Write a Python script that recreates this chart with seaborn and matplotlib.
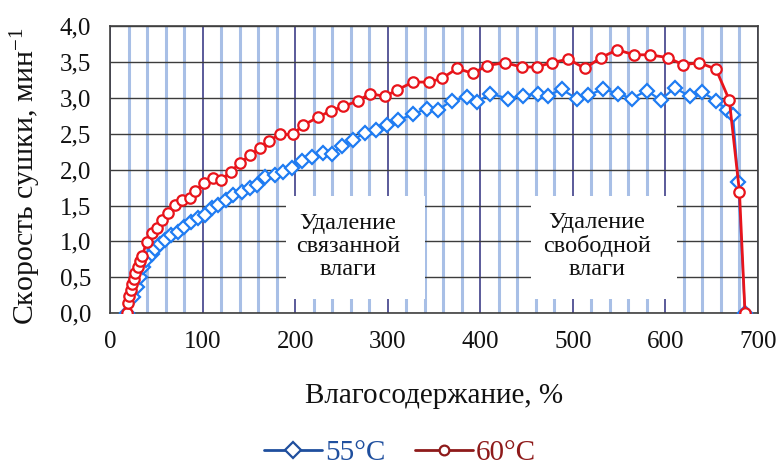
import matplotlib
matplotlib.use("Agg")
import matplotlib.pyplot as plt
from matplotlib.lines import Line2D
from matplotlib.patches import Rectangle
from matplotlib.ticker import FuncFormatter, MultipleLocator
import seaborn as sns
import pandas as pd

# ---- data ----
x55 = [17.5, 24.7, 28.3, 32, 35.5, 39, 44.5, 48, 53.5, 59, 66, 72.6, 79.8, 87.7, 95, 102,
       109.4, 116.5, 124.5, 132.8, 141.8, 151, 158, 167, 178, 186.8, 196, 206.7, 217.5,
       229.4, 240, 250, 261.8, 275, 287, 299, 311, 327, 341.8, 354, 369, 385, 396.5, 410,
       430, 446, 462.5, 473, 487.7, 504, 516.5, 532.8, 549, 563.5, 579.7, 595, 610, 626.5,
       640, 654.6, 666.8, 673, 678.7, 686]
y55 = [0.0, 0.23, 0.37, 0.51, 0.65, 0.74, 0.83, 0.90, 0.97, 1.02, 1.09, 1.13, 1.20, 1.27,
       1.32, 1.37, 1.46, 1.51, 1.57, 1.64, 1.69, 1.74, 1.78, 1.90, 1.92, 1.97, 2.02, 2.12,
       2.18, 2.23, 2.22, 2.33, 2.41, 2.51, 2.55, 2.62, 2.69, 2.77, 2.85, 2.83, 2.96, 3.01,
       2.94, 3.06, 2.99, 3.03, 3.06, 3.03, 3.12, 2.99, 3.04, 3.12, 3.06, 2.99, 3.10, 2.97,
       3.14, 3.02, 3.08, 2.96, 2.83, 2.76, 1.83, 0.0]

x60 = [17.5, 18.6, 20, 21.8, 23.6, 25.7, 27.2, 29.4, 31.9, 34.4, 39.1, 44.5, 49.9, 56,
       62.5, 69.7, 77, 86, 91.4, 101.4, 111, 120, 130, 140, 150.8, 161.6, 171.4, 183, 197,
       208.5, 224.6, 238, 251.7, 268, 280.5, 296.8, 310, 327, 344.6, 358, 375, 392, 407,
       426.5, 444.5, 460.8, 477, 495, 513, 530, 548, 566, 583, 603, 619, 636.5, 654.6, 669,
       680, 686]
y60 = [0.0, 0.14, 0.24, 0.32, 0.40, 0.48, 0.56, 0.65, 0.72, 0.79, 0.99, 1.11, 1.18, 1.30,
       1.40, 1.51, 1.57, 1.60, 1.70, 1.82, 1.88, 1.86, 1.97, 2.09, 2.20, 2.30, 2.40, 2.49,
       2.49, 2.62, 2.73, 2.82, 2.88, 2.96, 3.06, 3.02, 3.11, 3.22, 3.22, 3.27, 3.41, 3.34,
       3.45, 3.49, 3.43, 3.43, 3.49, 3.54, 3.41, 3.56, 3.67, 3.60, 3.60, 3.56, 3.46, 3.49,
       3.40, 2.97, 1.69, 0.0]

series_labels = ["55°C", "60°C"]
annotations = ["Удаление\nсвязанной\nвлаги", "Удаление\nсвободной\nвлаги"]
xlabel = "Влагосодержание, %"
ylabel = "Скорость сушки, мин$^{-1}$"

# ---- style ----
sns.set_style("white")
plt.rcParams["font.family"] = ["Liberation Serif", "DejaVu Serif"]
plt.rcParams["mathtext.default"] = "regular"

c55 = "#1f7cf2"
c60 = "#e8141b"
c55_leg = "#1f4f9e"
c60_leg = "#8e1a1a"

fig = plt.figure(figsize=(7.77, 4.66), dpi=100)
ax = fig.add_axes([0.142, 0.328, 0.8335, 0.616])

df55 = pd.DataFrame({"x": x55, "y": y55})
df60 = pd.DataFrame({"x": x60, "y": y60})

sns.lineplot(data=df55, x="x", y="y", ax=ax, color=c55, lw=1.6, marker="D",
             markersize=7.5, markerfacecolor="white", markeredgecolor=c55,
             markeredgewidth=1.6, estimator=None, sort=False, zorder=4)
sns.lineplot(data=df60, x="x", y="y", ax=ax, color=c60, lw=2.0, marker="o",
             markersize=7.5, markerfacecolor="white", markeredgecolor=c60,
             markeredgewidth=1.6, estimator=None, sort=False, zorder=5)

ax.set_xlim(0, 700)
ax.set_ylim(0, 4)
ax.xaxis.set_major_locator(MultipleLocator(100))
ax.xaxis.set_minor_locator(MultipleLocator(20))
ax.yaxis.set_major_locator(MultipleLocator(0.5))
ax.yaxis.set_major_formatter(FuncFormatter(lambda v, p: f"{v:.1f}".replace(".", ",")))

ax.grid(which="minor", axis="x", color="#a8bfe6", lw=2.2, zorder=0)
ax.grid(which="major", axis="x", color="#2e2e7e", lw=1.1, zorder=1)
ax.grid(which="major", axis="y", color="#3c3c3c", lw=1.0, zorder=1)
ax.set_axisbelow(True)

for s in ax.spines.values():
    s.set_color("#404040")
    s.set_linewidth(1.2)

ax.tick_params(axis="both", which="both", length=0, labelsize=18, colors="#111111")
ax.tick_params(axis="x", pad=13)
ax.tick_params(axis="y", pad=14)

ax.set_xlabel(xlabel, fontsize=21, color="#111111")
ax.set_ylabel(ylabel, fontsize=21.5, color="#111111")
ax.xaxis.set_label_coords(0.5, -0.245)
ax.yaxis.set_label_coords(-0.104, 0.475)

# annotation boxes (white backgrounds hiding the grid)
boxes = [(190, 340), (455, 613)]
for (x0, x1), txt in zip(boxes, annotations):
    ax.add_patch(Rectangle((x0, 0.2), x1 - x0, 1.43, facecolor="white",
                           edgecolor="none", zorder=2))
    ax.text((x0 + x1) / 2 - 8, 0.93, txt, ha="center", va="center", fontsize=17.5,
            linespacing=1.12, color="#111111", zorder=3)

handles = [
    Line2D([], [], color=c55_leg, lw=2, marker="D", markersize=8,
           markerfacecolor="white", markeredgecolor=c55_leg, markeredgewidth=1.6),
    Line2D([], [], color=c60_leg, lw=2, marker="o", markersize=7,
           markerfacecolor="white", markeredgecolor=c60_leg, markeredgewidth=1.6),
]
leg = fig.legend(handles, series_labels, loc="center", bbox_to_anchor=(0.515, 0.028),
                 ncol=2, frameon=False, fontsize=21, handlelength=2.0,
                 handletextpad=0.1, columnspacing=1.0)
for t, c in zip(leg.get_texts(), [c55_leg, c60_leg]):
    t.set_color(c)

fig.savefig("out.png", dpi=100)
